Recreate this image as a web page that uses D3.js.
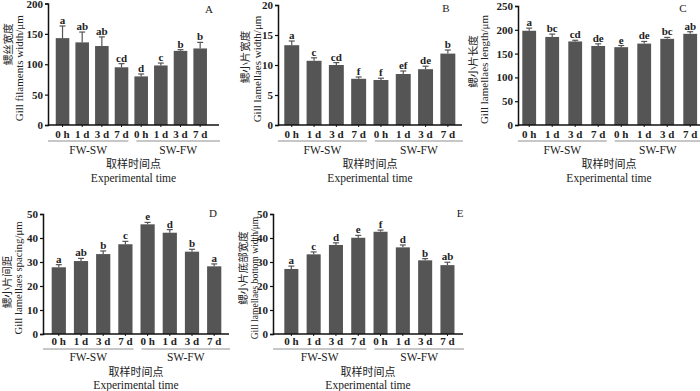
<!DOCTYPE html>
<html>
<head>
<meta charset="utf-8">
<script src="https://cdn.jsdelivr.net/npm/d3@7"></script>
<style>
  body { margin: 0; background: #fff; }
  svg { display: block; }
  text { font-family: "Liberation Serif", "Times New Roman", serif; }
  .cn { font-family: "Noto Sans CJK SC", sans-serif; }
</style>
</head>
<body>
<div id="container"></div>
<script>
/* DATA */
const timePoints = ["0 h", "1 d", "3 d", "7 d"];
const groups = ["FW-SW", "SW-FW"];

const filamentWidth = [143, 136, 130, 95, 80, 98, 122, 126];
const filamentWidthErr = [20, 17, 15, 6, 4, 4, 2, 10];
const filamentWidthSig = ["a", "ab", "ab", "cd", "d", "c", "b", "b"];

const lamellaeWidth = [13.3, 10.7, 10.0, 7.7, 7.5, 8.5, 9.3, 11.9];
const lamellaeWidthErr = [0.7, 0.5, 0.4, 0.3, 0.3, 0.5, 0.5, 0.6];
const lamellaeWidthSig = ["a", "c", "cd", "f", "f", "ef", "de", "b"];

const lamellaeLength = [198, 185, 175.5, 166, 163.5, 171, 181, 191.5];
const lamellaeLengthErr = [5.5, 6, 2.5, 4.5, 3.5, 4.5, 3, 4.5];
const lamellaeLengthSig = ["a", "bc", "cd", "de", "e", "de", "bc", "ab"];

const lamellaeSpacing = [27.8, 30.4, 33.3, 37.4, 45.7, 42.2, 34.3, 28.2];
const lamellaeSpacingErr = [1.1, 1.1, 1.3, 1.2, 0.8, 1.3, 1.0, 1.0];
const lamellaeSpacingSig = ["a", "ab", "b", "c", "e", "d", "b", "a"];

const bottomWidth = [27.1, 33.2, 37.1, 40.1, 42.6, 36.1, 30.7, 28.7];
const bottomWidthErr = [1.2, 1.0, 0.9, 1.0, 0.7, 1.0, 0.7, 1.2];
const bottomWidthSig = ["a", "c", "d", "e", "f", "d", "b", "ab"];

/* LAYOUT */
const width = 700;
const height = 391;
const barColor = "#555555";

// offsets below the x axis: time labels, group line, group labels, chinese title, english title
const topRowOffsets = [13, 16, 29, 43, 57];
const bottomRowOffsets = [11, 15, 27, 42, 55];

const panels = [
  { id: "A", values: filamentWidth, errs: filamentWidthErr, sig: filamentWidthSig, max: 200, step: 50,
    cn: "鳃丝宽度", en: "Gill filaments width/μm", enSize: 11,
    axisX: 48, axisEnd: 219, band: [52.7, 210], pad: 0.31, y0: 125, y1: 3.5,
    cnX: -40, enX: -29, cnDy: -20, letter: [209, 13], rows: topRowOffsets },
  { id: "B", values: lamellaeWidth, errs: lamellaeWidthErr, sig: lamellaeWidthSig, max: 20, step: 5,
    cn: "鳃小片宽度", en: "Gill lamellaes width/μm", enSize: 11,
    axisX: 278, axisEnd: 462, band: [280.6, 459], pad: 0.33, y0: 125, y1: 5,
    cnX: -33, enX: -21, cnDy: -8, letter: [446, 12], rows: topRowOffsets },
  { id: "C", values: lamellaeLength, errs: lamellaeLengthErr, sig: lamellaeLengthSig, max: 250, step: 50,
    cn: "鳃小片长度", en: "Gill lamellaes length/μm", enSize: 11,
    axisX: 518, axisEnd: 700, band: [517.7, 701.7], pad: 0.4, y0: 125, y1: 6,
    cnX: -45, enX: -34, cnDy: -4, letter: [683, 12], rows: topRowOffsets },
  { id: "D", values: lamellaeSpacing, errs: lamellaeSpacingErr, sig: lamellaeSpacingSig, max: 50, step: 10,
    cn: "鳃小片间距", en: "Gill lamellaes spacing/μm", enSize: 10.8,
    axisX: 43, axisEnd: 229, band: [47.7, 225.3], pad: 0.36, y0: 334, y1: 214,
    cnX: -36, enX: -25, cnDy: 8, letter: [213, 217], rows: bottomRowOffsets },
  { id: "E", values: bottomWidth, errs: bottomWidthErr, sig: bottomWidthSig, max: 50, step: 10,
    cn: "鳃小片底部宽度", en: "Gill lamellaes bottom width/μm", enSize: 9.6,
    axisX: 273, axisEnd: 463, band: [280.2, 458.6], pad: 0.37, y0: 334, y1: 214,
    cnX: -30, enX: -18, cnDy: -6, letter: [460, 217], rows: bottomRowOffsets }
];

const svg = d3.select("#container")
  .append("svg")
  .attr("width", width)
  .attr("height", height);

panels.forEach(drawPanel);

function drawPanel(p) {
  const g = svg.append("g").attr("class", "panel-" + p.id);
  const idx = d3.range(p.values.length);
  const off = p.rows;

  const xScale = d3.scaleBand()
    .domain(idx)
    .range(p.band)
    .paddingInner(p.pad)
    .paddingOuter(p.pad / 2);

  const yScale = d3.scaleLinear()
    .domain([0, p.max])
    .range([p.y0, p.y1]);

  // bars
  g.selectAll("rect.bar")
    .data(idx)
    .join("rect")
    .attr("class", "bar")
    .attr("x", i => xScale(i))
    .attr("y", i => yScale(p.values[i]))
    .attr("width", xScale.bandwidth())
    .attr("height", i => yScale(0) - yScale(p.values[i]))
    .attr("fill", barColor);

  // error bars
  const cx = i => xScale(i) + xScale.bandwidth() / 2;
  g.selectAll("line.err")
    .data(idx)
    .join("line")
    .attr("class", "err")
    .attr("x1", cx).attr("x2", cx)
    .attr("y1", i => yScale(p.values[i]))
    .attr("y2", i => yScale(p.values[i] + p.errs[i]))
    .attr("stroke", barColor)
    .attr("stroke-width", 1.2);
  g.selectAll("line.cap")
    .data(idx)
    .join("line")
    .attr("class", "cap")
    .attr("x1", i => cx(i) - 3).attr("x2", i => cx(i) + 3)
    .attr("y1", i => yScale(p.values[i] + p.errs[i]))
    .attr("y2", i => yScale(p.values[i] + p.errs[i]))
    .attr("stroke", barColor)
    .attr("stroke-width", 1.2);

  // significance letters
  g.selectAll("text.sig")
    .data(idx)
    .join("text")
    .attr("class", "sig")
    .attr("x", cx)
    .attr("y", i => yScale(p.values[i] + p.errs[i]) - 2)
    .attr("text-anchor", "middle")
    .attr("font-size", 11)
    .attr("font-weight", "bold")
    .attr("fill", "#222")
    .text(i => p.sig[i]);

  // y axis
  const yAxis = d3.axisLeft(yScale)
    .tickValues(d3.range(0, p.max + 0.001, p.step))
    .tickSize(3)
    .tickPadding(2);
  const yAxisGroup = g.append("g")
    .attr("transform", `translate(${p.axisX},0)`)
    .call(yAxis);
  yAxisGroup.select(".domain").attr("stroke", "#111").attr("stroke-width", 1.5);
  yAxisGroup.selectAll(".tick line").attr("stroke", "#111").attr("stroke-width", 1.2);
  yAxisGroup.selectAll(".tick text")
    .attr("font-size", 11)
    .attr("font-weight", "bold")
    .attr("font-family", "Liberation Serif, serif")
    .attr("fill", "#222");

  // x axis line
  g.append("line")
    .attr("x1", p.axisX).attr("x2", p.axisEnd)
    .attr("y1", p.y0).attr("y2", p.y0)
    .attr("stroke", "#111")
    .attr("stroke-width", 1.5);
  g.selectAll("line.xtick")
    .data(idx)
    .join("line")
    .attr("class", "xtick")
    .attr("x1", cx).attr("x2", cx)
    .attr("y1", p.y0).attr("y2", p.y0 + 2)
    .attr("stroke", "#111");

  // time point labels
  g.selectAll("text.tp")
    .data(idx)
    .join("text")
    .attr("class", "tp")
    .attr("x", cx)
    .attr("y", p.y0 + off[0])
    .attr("text-anchor", "middle")
    .attr("font-size", 11)
    .attr("font-weight", "bold")
    .attr("fill", "#222")
    .text(i => timePoints[i % timePoints.length]);

  // group lines and labels
  const mid = xScale(4) - (xScale.step() - xScale.bandwidth()) / 2;
  const spans = [[p.axisX, mid - 3], [mid + 5, p.axisEnd + 1]];
  groups.forEach((name, k) => {
    g.append("line")
      .attr("x1", spans[k][0]).attr("x2", spans[k][1])
      .attr("y1", p.y0 + off[1]).attr("y2", p.y0 + off[1])
      .attr("stroke", "#b5b5b5")
      .attr("stroke-width", 1.5);
    g.append("text")
      .attr("x", (spans[k][0] + spans[k][1]) / 2)
      .attr("y", p.y0 + off[2])
      .attr("text-anchor", "middle")
      .attr("font-size", 11.5)
      .attr("fill", "#222")
      .text(name);
  });

  // x axis titles
  const xMid = (p.axisX + p.axisEnd) / 2;
  g.append("text")
    .attr("class", "cn")
    .attr("x", xMid)
    .attr("y", p.y0 + off[3])
    .attr("text-anchor", "middle")
    .attr("font-size", 11)
    .attr("fill", "#222")
    .text("取样时间点");
  g.append("text")
    .attr("x", xMid)
    .attr("y", p.y0 + off[4])
    .attr("text-anchor", "middle")
    .attr("font-size", 11.5)
    .attr("fill", "#222")
    .text("Experimental time");

  // y axis titles
  const yMid = (p.y0 + p.y1) / 2;
  g.append("text")
    .attr("class", "cn")
    .attr("transform", `translate(${p.axisX + p.cnX},${yMid + p.cnDy}) rotate(-90)`)
    .attr("text-anchor", "middle")
    .attr("dy", "0.35em")
    .attr("font-size", 10.5)
    .attr("fill", "#222")
    .text(p.cn);
  g.append("text")
    .attr("transform", `translate(${p.axisX + p.enX},${yMid + 4}) rotate(-90)`)
    .attr("text-anchor", "middle")
    .attr("dy", "0.35em")
    .attr("font-size", p.enSize)
    .attr("fill", "#222")
    .text(p.en);

  // panel letter
  g.append("text")
    .attr("x", p.letter[0])
    .attr("y", p.letter[1])
    .attr("text-anchor", "middle")
    .attr("font-size", 11)
    .attr("fill", "#222")
    .text(p.id);
}
</script>
</body>
</html>
